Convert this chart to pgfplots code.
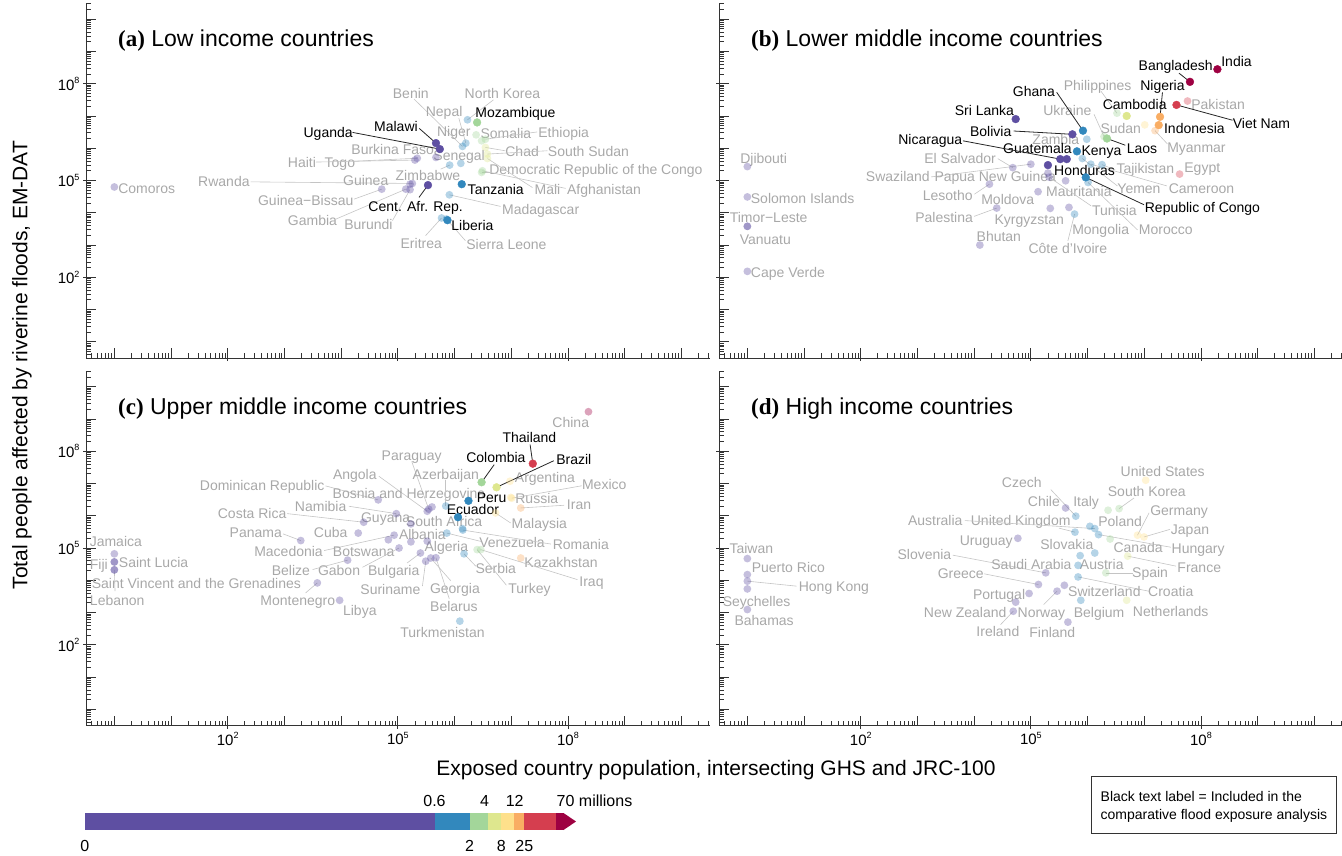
\documentclass[border=0pt]{standalone}
\usepackage{fontspec}
\setmainfont{Liberation Sans}
\newfontfamily\serifb{Liberation Serif}
\usepackage{pgfplots}
\pgfplotsset{compat=1.18}
\definecolor{col1}{HTML}{5E4FA2}
\definecolor{col2}{HTML}{3288BD}
\definecolor{col3}{HTML}{A3D69A}
\definecolor{col4}{HTML}{DEE78E}
\definecolor{col5}{HTML}{FEE08B}
\definecolor{col6}{HTML}{F9AD63}
\definecolor{col7}{HTML}{D53E4F}
\definecolor{col8}{HTML}{9E0142}
\definecolor{txg}{HTML}{A8A8A8}
\definecolor{txb}{HTML}{000000}
\definecolor{lng}{HTML}{C4C4C4}
\tikzset{ldg/.style={draw=lng, line width=0.6pt},
 ldb/.style={draw=black!85, line width=0.8pt},
 mkg/.style={fill opacity=0.36, draw opacity=0},
 mkb/.style={},
 lbl/.style={inner sep=0pt, font=\fontsize{14}{14}\selectfont, text height=10pt, text depth=0pt}}
\newcommand{\tlab}[1]{10\raisebox{0.45em}{\fontsize{9}{9}\selectfont #1}}
\newcommand{\ctyL}[9]{%
 \draw[ld#4] (axis cs:#2,#3) -- ++(#5pt,#6pt);
 \addplot[only marks, mark=*, mark size=3.9pt, mark options={draw=#1, fill=#1, mk#4}] coordinates {(#2,#3)};
 \node[lbl, text=tx#4] at ([shift={(#7pt,#8pt)}]axis cs:#2,#3) {#9};}
\newcommand{\ctyN}[7]{%
 \addplot[only marks, mark=*, mark size=3.9pt, mark options={draw=#1, fill=#1, mk#4}] coordinates {(#2,#3)};
 \node[lbl, text=tx#4] at ([shift={(#5pt,#6pt)}]axis cs:#2,#3) {#7};}
\begin{document}
\begin{tikzpicture}[x=1pt,y=1pt]
\useasboundingbox (0pt,0pt) rectangle (1342pt,-855pt);
% ---------------- (a)
\begin{axis}[at={(86pt,-3pt)}, anchor=north west,
 xmode=log, ymode=log, scale only axis, width=623.7pt, height=355pt,
 xmin=0.3162278, xmax=3.162278e10, ymin=0.3162278, ymax=3.162278e10,
 axis lines=left, axis line style={line width=0.9pt, black!80, -}, clip=false,
 xtick={1,10,100,1000,10000,100000,1000000,10000000,100000000,1000000000,10000000000},
 ytick={1,10,100,1000,10000,100000,1000000,10000000,100000000,1000000000,10000000000},
 minor xtick={0.4,0.5,0.6,0.7,0.8,0.9,2,3,4,5,6,7,8,9,20,30,40,50,60,70,80,90,200,300,400,500,600,700,800,900,2000,3000,4000,5000,6000,7000,8000,9000,20000,30000,40000,50000,60000,70000,80000,90000,200000,300000,400000,500000,600000,700000,800000,900000,2000000,3000000,4000000,5000000,6000000,7000000,8000000,9000000,20000000,30000000,40000000,50000000,60000000,70000000,80000000,90000000,200000000,300000000,400000000,500000000,600000000,700000000,800000000,900000000,2000000000,3000000000,4000000000,5000000000,6000000000,7000000000,8000000000,9000000000,20000000000,30000000000},
 minor ytick={0.4,0.5,0.6,0.7,0.8,0.9,2,3,4,5,6,7,8,9,20,30,40,50,60,70,80,90,200,300,400,500,600,700,800,900,2000,3000,4000,5000,6000,7000,8000,9000,20000,30000,40000,50000,60000,70000,80000,90000,200000,300000,400000,500000,600000,700000,800000,900000,2000000,3000000,4000000,5000000,6000000,7000000,8000000,9000000,20000000,30000000,40000000,50000000,60000000,70000000,80000000,90000000,200000000,300000000,400000000,500000000,600000000,700000000,800000000,900000000,2000000000,3000000000,4000000000,5000000000,6000000000,7000000000,8000000000,9000000000,20000000000,30000000000},
 xticklabels={}, yticklabels={},
 tick align=inside, major tick length=10pt, minor tick length=5pt,
 tick style={line width=0.8pt, black!80},
 extra x ticks={100,100000,100000000}, extra y ticks={100,100000,100000000},
 extra x tick style={tick align=outside, major tick length=3pt},
 extra y tick style={tick align=outside, major tick length=3pt},
 tick label style={font=\fontsize{15}{15}\selectfont},
 extra x tick labels={}, extra y tick labels={\tlab{2},\tlab{5},\tlab{8}}]
\ctyN{col1}{1}{6.3e4}{g}{32.4}{-1.3}{Comoros}
\ctyL{col1}{1.8e5}{8.1e4}{g}{-161.7}{1.6}{-188.4}{1.6}{Rwanda}
\ctyN{col1}{1.64e5}{7.7e4}{g}{-44.3}{3.3}{Guinea}
\ctyL{col1}{5.2e4}{5.4e4}{g}{-27.7}{-10}{-76}{-11.7}{Guinea−Bissau}
\ctyL{col1}{1.38e5}{5.4e4}{g}{-70}{-30}{-93.3}{-31}{Gambia}
\ctyL{col1}{1.64e5}{5.2e4}{g}{-17.6}{-31}{-41.6}{-35}{Burundi}
\ctyN{col1}{4.7e5}{5.2e5}{g}{-43.3}{7.6}{Burkina Faso}
\ctyL{col1}{2.2e5}{4.9e5}{g}{-63.4}{-3}{-77.4}{-4.3}{Togo}
\ctyL{col1}{2.0e5}{4.3e5}{g}{-99}{-2}{-113}{-2.3}{Haiti}
\ctyL{col2}{8.2e5}{3.0e5}{g}{-9}{-4}{-21.7}{-10.7}{Zimbabwe}
\ctyN{col2}{1.29e6}{3.4e5}{g}{-1.7}{8.3}{Senegal}
\ctyL{col2}{8.1e5}{3.6e4}{g}{51.3}{-11.6}{91.3}{-14.3}{Madagascar}
\ctyL{col2}{5.9e5}{6.9e3}{g}{-16}{-17.7}{-20.3}{-25.3}{Eritrea}
\ctyL{col2}{7.2e5}{6.4e3}{g}{19}{-21.7}{60}{-25.7}{Sierra Leone}
\ctyL{col2}{1.69e6}{7.6e6}{g}{26}{20}{35}{26.7}{North Korea}
\ctyL{col2}{1.38e6}{1.14e6}{g}{-48.4}{47.3}{-51.7}{53.3}{Benin}
\ctyL{col2}{1.58e6}{1.44e6}{g}{-7}{25}{-21.7}{31.3}{Nepal}
\ctyN{col3}{2.4e6}{2.6e6}{g}{-22.3}{3.4}{Niger}
\ctyN{col3}{3.0e6}{1.7e6}{g}{24.3}{7.7}{Somalia}
\ctyL{col3}{3.5e6}{1.9e6}{g}{51.7}{7.3}{78.3}{6.7}{Ethiopia}
\ctyL{col4}{3.5e6}{1.06e6}{g}{20}{-3.4}{36.7}{-4.4}{Chad}
\ctyL{col4}{3.8e6}{6.6e5}{g}{60}{3.3}{101}{2.7}{South Sudan}
\ctyL{col3}{3.0e6}{1.78e5}{g}{8.6}{0}{114.3}{2.6}{Democratic Republic of the Congo}
\ctyL{col4}{3.8e6}{4.8e5}{g}{45}{-29}{60}{-30.7}{Mali}
\ctyL{col3}{3.1e6}{2.0e5}{g}{83.3}{-17.6}{121.6}{-18.3}{Afghanistan}
\ctyL{col1}{3.4e5}{7.2e4}{b}{-9}{-12.3}{-12.3}{-21.7}{Cent. Afr. Rep.}
\ctyN{col2}{1.34e6}{7.7e4}{b}{34}{-5.7}{Tanzania}
\ctyN{col2}{7.5e5}{5.9e3}{b}{25}{-5.7}{Liberia}
\ctyL{col1}{4.7e5}{1.44e6}{b}{-16.7}{14.7}{-40}{16.7}{Malawi}
\ctyL{col1}{5.5e5}{9.4e5}{b}{-87.3}{16.7}{-111.7}{16.7}{Uganda}
\ctyN{col3}{2.5e6}{6.3e6}{b}{38.3}{10}{Mozambique}
\end{axis}
% ---------------- (b)
\begin{axis}[at={(719pt,-3pt)}, anchor=north west,
 xmode=log, ymode=log, scale only axis, width=623.7pt, height=355pt,
 xmin=0.3162278, xmax=3.162278e10, ymin=0.3162278, ymax=3.162278e10,
 axis lines=left, axis line style={line width=0.9pt, black!80, -}, clip=false,
 xtick={1,10,100,1000,10000,100000,1000000,10000000,100000000,1000000000,10000000000},
 ytick={1,10,100,1000,10000,100000,1000000,10000000,100000000,1000000000,10000000000},
 minor xtick={0.4,0.5,0.6,0.7,0.8,0.9,2,3,4,5,6,7,8,9,20,30,40,50,60,70,80,90,200,300,400,500,600,700,800,900,2000,3000,4000,5000,6000,7000,8000,9000,20000,30000,40000,50000,60000,70000,80000,90000,200000,300000,400000,500000,600000,700000,800000,900000,2000000,3000000,4000000,5000000,6000000,7000000,8000000,9000000,20000000,30000000,40000000,50000000,60000000,70000000,80000000,90000000,200000000,300000000,400000000,500000000,600000000,700000000,800000000,900000000,2000000000,3000000000,4000000000,5000000000,6000000000,7000000000,8000000000,9000000000,20000000000,30000000000},
 minor ytick={0.4,0.5,0.6,0.7,0.8,0.9,2,3,4,5,6,7,8,9,20,30,40,50,60,70,80,90,200,300,400,500,600,700,800,900,2000,3000,4000,5000,6000,7000,8000,9000,20000,30000,40000,50000,60000,70000,80000,90000,200000,300000,400000,500000,600000,700000,800000,900000,2000000,3000000,4000000,5000000,6000000,7000000,8000000,9000000,20000000,30000000,40000000,50000000,60000000,70000000,80000000,90000000,200000000,300000000,400000000,500000000,600000000,700000000,800000000,900000000,2000000000,3000000000,4000000000,5000000000,6000000000,7000000000,8000000000,9000000000,20000000000,30000000000},
 xticklabels={}, yticklabels={},
 tick align=inside, major tick length=10pt, minor tick length=5pt,
 tick style={line width=0.8pt, black!80},
 extra x ticks={100,100000,100000000}, extra y ticks={100,100000,100000000},
 extra x tick style={tick align=outside, major tick length=3pt},
 extra y tick style={tick align=outside, major tick length=3pt},
 tick label style={font=\fontsize{15}{15}\selectfont},
 extra x tick labels={}, extra y tick labels={}]
\ctyN{col1}{1}{2.7e5}{g}{16.3}{8}{Djibouti}
\ctyN{col1}{1}{3.1e4}{g}{55.3}{-1.6}{Solomon Islands}
\ctyN{col1}{1}{3.8e3}{g}{21.3}{8.6}{Timor−Leste}
\ctyN{col1}{1}{3.8e3}{g}{18}{-12.7}{Vanuatu}
\ctyN{col1}{1}{153}{g}{40.6}{-1}{Cape Verde}
\ctyL{col1}{4.8e4}{2.5e5}{g}{-15}{9}{-52.7}{9.3}{El Salvador}
\ctyL{col1}{1.0e5}{3.2e5}{g}{-99.7}{-12.7}{-133}{-12.7}{Swaziland}
\ctyN{col1}{2.0e5}{1.7e5}{g}{-52.7}{-3.7}{Papua New Guinea}
\ctyL{col1}{1.86e4}{7.7e4}{g}{-15}{-10}{-41.7}{-11.7}{Lesotho}
\ctyN{col1}{1.34e5}{4.5e4}{g}{-30.3}{-7.8}{Moldova}
\ctyL{col1}{2.5e4}{1.4e4}{g}{-22.6}{-8.3}{-52.6}{-9.3}{Palestina}
\ctyN{col1}{2.2e5}{1.37e4}{g}{-21}{-10.7}{Kyrgyzstan}
\ctyN{col1}{1.26e4}{1.0e3}{g}{19}{8.4}{Bhutan}
\ctyL{col3}{3.3e6}{1.22e7}{g}{-16}{22}{-19.3}{28}{Philippines}
\ctyN{col7}{5.8e7}{2.9e7}{g}{30.6}{-3.3}{Pakistan}
\ctyN{col5}{1.02e7}{5.3e6}{g}{-24}{-3.6}{Sudan}
\ctyL{col6}{1.55e7}{3.5e6}{g}{12.4}{-13.3}{41.4}{-16.6}{Myanmar}
\ctyL{col3}{1.95e6}{2.3e6}{g}{-10}{22.3}{-36.6}{25.6}{Ukraine}
\ctyN{col2}{9.7e5}{1.9e6}{g}{-31}{-0.7}{Zambia}
\ctyL{col2}{1.8e6}{3.1e5}{g}{13.3}{-5.3}{43.3}{-4.3}{Tajikistan}
\ctyN{col7}{4.2e7}{1.58e5}{g}{22.7}{6.7}{Egypt}
\ctyL{col2}{1.14e6}{3.2e5}{g}{76}{-21.7}{110.7}{-24}{Cameroon}
\ctyL{col2}{8.1e5}{4.8e5}{g}{35}{-27.4}{56.6}{-30}{Yemen}
\ctyN{col1}{4.1e5}{9.8e4}{g}{13.3}{-11}{Mauritania}
\ctyL{col1}{2.1e5}{1.27e5}{g}{42}{-28.7}{65.3}{-33}{Tunisia}
\ctyL{col2}{1.02e6}{8.7e4}{g}{49.4}{-47.4}{77.7}{-47.4}{Morocco}
\ctyN{col1}{4.7e5}{1.47e4}{g}{31.7}{-21.7}{Mongolia}
\ctyL{col2}{5.9e5}{9.1e3}{g}{-6.7}{-26.7}{-6.7}{-34.3}{Côte d'Ivoire}
\ctyN{col8}{1.95e8}{2.8e8}{b}{19.1}{7.7}{India}
\ctyL{col8}{6.4e7}{1.14e8}{b}{-11}{8.7}{-14.3}{16}{Bangladesh}
\ctyL{col6}{1.9e7}{9.4e6}{b}{2.4}{24.4}{2.4}{31}{Nigeria}
\ctyN{col6}{1.8e7}{5.2e6}{b}{35.7}{-3.3}{Indonesia}
\ctyN{col4}{4.9e6}{1.0e7}{b}{8}{11}{Cambodia}
\ctyL{col7}{3.7e7}{2.2e7}{b}{56}{-15.3}{85}{-18.3}{Viet Nam}
\ctyL{col3}{2.2e6}{2.0e6}{b}{18.3}{-6.7}{35}{-9.7}{Laos}
\ctyL{col2}{8.3e5}{3.5e6}{b}{-26.3}{38.4}{-49}{39}{Ghana}
\ctyL{col1}{5.4e5}{2.7e6}{b}{-58.7}{3.3}{-81.7}{3.3}{Bolivia}
\ctyN{col2}{6.5e5}{8.0e5}{b}{24.5}{1.3}{Kenya}
\ctyN{col1}{4.3e5}{4.6e5}{b}{-29.3}{10.7}{Guatemala}
\ctyL{col1}{3.3e5}{4.6e5}{b}{-97.3}{18.3}{-130}{20}{Nicaragua}
\ctyN{col1}{2.0e5}{3.0e5}{b}{36.6}{-5}{Honduras}
\ctyL{col2}{9.3e5}{1.25e5}{b}{58.3}{-27.4}{116.7}{-30}{Republic of Congo}
\ctyN{col1}{5.4e4}{8.0e6}{b}{-31.3}{8.3}{Sri Lanka}
\end{axis}
% ---------------- (c)
\begin{axis}[at={(86pt,-370.5pt)}, anchor=north west,
 xmode=log, ymode=log, scale only axis, width=623.7pt, height=355pt,
 xmin=0.3162278, xmax=3.162278e10, ymin=0.3162278, ymax=3.162278e10,
 axis lines=left, axis line style={line width=0.9pt, black!80, -}, clip=false,
 xtick={1,10,100,1000,10000,100000,1000000,10000000,100000000,1000000000,10000000000},
 ytick={1,10,100,1000,10000,100000,1000000,10000000,100000000,1000000000,10000000000},
 minor xtick={0.4,0.5,0.6,0.7,0.8,0.9,2,3,4,5,6,7,8,9,20,30,40,50,60,70,80,90,200,300,400,500,600,700,800,900,2000,3000,4000,5000,6000,7000,8000,9000,20000,30000,40000,50000,60000,70000,80000,90000,200000,300000,400000,500000,600000,700000,800000,900000,2000000,3000000,4000000,5000000,6000000,7000000,8000000,9000000,20000000,30000000,40000000,50000000,60000000,70000000,80000000,90000000,200000000,300000000,400000000,500000000,600000000,700000000,800000000,900000000,2000000000,3000000000,4000000000,5000000000,6000000000,7000000000,8000000000,9000000000,20000000000,30000000000},
 minor ytick={0.4,0.5,0.6,0.7,0.8,0.9,2,3,4,5,6,7,8,9,20,30,40,50,60,70,80,90,200,300,400,500,600,700,800,900,2000,3000,4000,5000,6000,7000,8000,9000,20000,30000,40000,50000,60000,70000,80000,90000,200000,300000,400000,500000,600000,700000,800000,900000,2000000,3000000,4000000,5000000,6000000,7000000,8000000,9000000,20000000,30000000,40000000,50000000,60000000,70000000,80000000,90000000,200000000,300000000,400000000,500000000,600000000,700000000,800000000,900000000,2000000000,3000000000,4000000000,5000000000,6000000000,7000000000,8000000000,9000000000,20000000000,30000000000},
 xticklabels={}, yticklabels={},
 tick align=inside, major tick length=10pt, minor tick length=5pt,
 tick style={line width=0.8pt, black!80},
 extra x ticks={100,100000,100000000}, extra y ticks={100,100000,100000000},
 extra x tick style={tick align=outside, major tick length=3pt},
 extra y tick style={tick align=outside, major tick length=3pt},
 tick label style={font=\fontsize{15}{15}\selectfont},
 extra x tick labels={\tlab{2},\tlab{5},\tlab{8}}, extra y tick labels={\tlab{2},\tlab{5},\tlab{8}}]
\ctyN{col1}{1}{6.6e4}{g}{1.5}{12.7}{Jamaica}
\ctyN{col1}{1}{3.7e4}{g}{-15.5}{-2.7}{Fiji}
\ctyN{col1}{1}{3.7e4}{g}{39.2}{-1}{Saint Lucia}
\ctyN{col1}{1}{2.1e4}{g}{82}{-14}{Saint Vincent and the Grenadines}
\ctyL{col1}{1}{2.1e4}{g}{0.7}{-21.3}{2.9}{-30.7}{Lebanon}
\ctyL{col1}{1.94e3}{1.7e5}{g}{-17.7}{6.7}{-45}{8.4}{Panama}
\ctyL{col1}{2.5e4}{6.3e5}{g}{-76.6}{8.6}{-111.6}{8.6}{Costa Rica}
\ctyN{col1}{2.0e4}{2.9e5}{g}{-27.5}{1}{Cuba}
\ctyL{col1}{4.5e4}{3.1e6}{g}{-52.7}{14}{-116}{14}{Dominican Republic}
\ctyL{col1}{3.3e5}{1.38e6}{g}{-48.4}{35}{-72.4}{36.6}{Angola}
\ctyL{col1}{3.5e5}{1.6e6}{g}{-17}{47.7}{-17}{53.7}{Paraguay}
\ctyN{col1}{4.0e5}{1.87e6}{g}{-23}{13}{Bosnia and Herzegovina}
\ctyL{col1}{9.4e4}{1.16e6}{g}{-47.4}{7.4}{-75.7}{7.4}{Namibia}
\ctyN{col1}{1.7e5}{5.6e5}{g}{-25.3}{6}{Guyana}
\ctyN{col2}{1.38e6}{4.0e5}{g}{-18.4}{6.7}{South Africa}
\ctyL{col1}{8.6e4}{2.5e5}{g}{-70}{-15.4}{-105.6}{-16}{Macedonia}
\ctyN{col1}{6.8e4}{1.8e5}{g}{34}{5.7}{Albania}
\ctyN{col1}{1.7e5}{1.55e5}{g}{-47.2}{-9.3}{Botswana}
\ctyL{col1}{1.05e5}{1.0e5}{g}{-36.6}{-19.3}{-60}{-22.7}{Gabon}
\ctyL{col1}{1.3e4}{4.2e4}{g}{-35}{-9.4}{-56.7}{-10.4}{Belize}
\ctyL{col1}{2.5e5}{7.0e4}{g}{-13.3}{-10}{-26.7}{-17.7}{Bulgaria}
\ctyL{col1}{3.1e5}{3.9e4}{g}{-3.3}{-25}{-35.3}{-28.4}{Suriname}
\ctyL{col1}{3.8e5}{4.9e4}{g}{20}{-22.7}{24.2}{-30.7}{Georgia}
\ctyL{col1}{4.7e5}{5.0e4}{g}{13.3}{-41}{18}{-48.6}{Belarus}
\ctyN{col1}{3.3e5}{1.63e5}{g}{19.1}{-5}{Algeria}
\ctyN{col1}{9.4e3}{2.4e3}{g}{20.2}{-10.6}{Libya}
\ctyL{col1}{3.8e3}{8.3e3}{g}{-11.7}{-10}{-19.5}{-17.7}{Montenegro}
\ctyN{col2}{1.24e6}{542}{g}{-17.3}{-11}{Turkmenistan}
\ctyN{col8}{2.3e8}{1.67e9}{g}{-17.7}{-10.6}{China}
\ctyN{col5}{9.5e6}{1.17e7}{g}{34.9}{3.3}{Argentina}
\ctyL{col5}{1.02e7}{3.5e6}{g}{70}{12.4}{92.5}{13.4}{Mexico}
\ctyN{col5}{9.8e6}{3.7e6}{g}{26}{-0.7}{Russia}
\ctyL{col5}{5.3e6}{1.22e6}{g}{15}{-10}{43.7}{-11}{Malaysia}
\ctyL{col6}{1.47e7}{1.74e6}{g}{43.3}{2.7}{58.3}{3.3}{Iran}
\ctyL{col2}{7.0e5}{2.0e6}{g}{0}{25.6}{0}{31.6}{Azerbaijan}
\ctyL{col2}{7.3e5}{2.9e5}{g}{34}{-8.3}{65.2}{-9.3}{Venezuela}
\ctyL{col2}{1.4e6}{3.6e5}{g}{88}{-14}{118}{-14}{Romania}
\ctyL{col2}{1.47e6}{6.6e4}{g}{11.7}{-12.3}{31.7}{-15}{Serbia}
\ctyL{col3}{2.5e6}{8.9e4}{g}{29.3}{-35.6}{52.3}{-39}{Turkey}
\ctyN{col6}{1.47e7}{4.9e4}{g}{40.3}{-4.3}{Kazakhstan}
\ctyL{col3}{2.9e6}{8.9e4}{g}{96.7}{-30}{110.7}{-31.6}{Iraq}
\ctyL{col7}{2.4e7}{4.1e7}{b}{-2.7}{19}{-3.4}{25.7}{Thailand}
\ctyL{col3}{3.0e6}{1.09e7}{b}{12.6}{17.6}{14.3}{25}{Colombia}
\ctyL{col4}{5.5e6}{7.6e6}{b}{57.3}{26.6}{77.3}{27.6}{Brazil}
\ctyN{col2}{1.76e6}{2.9e6}{b}{23.1}{3.4}{Peru}
\ctyN{col2}{1.15e6}{9.0e5}{b}{14.9}{7.6}{Ecuador}
\end{axis}
% ---------------- (d)
\begin{axis}[at={(719pt,-370.5pt)}, anchor=north west,
 xmode=log, ymode=log, scale only axis, width=623.7pt, height=355pt,
 xmin=0.3162278, xmax=3.162278e10, ymin=0.3162278, ymax=3.162278e10,
 axis lines=left, axis line style={line width=0.9pt, black!80, -}, clip=false,
 xtick={1,10,100,1000,10000,100000,1000000,10000000,100000000,1000000000,10000000000},
 ytick={1,10,100,1000,10000,100000,1000000,10000000,100000000,1000000000,10000000000},
 minor xtick={0.4,0.5,0.6,0.7,0.8,0.9,2,3,4,5,6,7,8,9,20,30,40,50,60,70,80,90,200,300,400,500,600,700,800,900,2000,3000,4000,5000,6000,7000,8000,9000,20000,30000,40000,50000,60000,70000,80000,90000,200000,300000,400000,500000,600000,700000,800000,900000,2000000,3000000,4000000,5000000,6000000,7000000,8000000,9000000,20000000,30000000,40000000,50000000,60000000,70000000,80000000,90000000,200000000,300000000,400000000,500000000,600000000,700000000,800000000,900000000,2000000000,3000000000,4000000000,5000000000,6000000000,7000000000,8000000000,9000000000,20000000000,30000000000},
 minor ytick={0.4,0.5,0.6,0.7,0.8,0.9,2,3,4,5,6,7,8,9,20,30,40,50,60,70,80,90,200,300,400,500,600,700,800,900,2000,3000,4000,5000,6000,7000,8000,9000,20000,30000,40000,50000,60000,70000,80000,90000,200000,300000,400000,500000,600000,700000,800000,900000,2000000,3000000,4000000,5000000,6000000,7000000,8000000,9000000,20000000,30000000,40000000,50000000,60000000,70000000,80000000,90000000,200000000,300000000,400000000,500000000,600000000,700000000,800000000,900000000,2000000000,3000000000,4000000000,5000000000,6000000000,7000000000,8000000000,9000000000,20000000000,30000000000},
 xticklabels={}, yticklabels={},
 tick align=inside, major tick length=10pt, minor tick length=5pt,
 tick style={line width=0.8pt, black!80},
 extra x ticks={100,100000,100000000}, extra y ticks={100,100000,100000000},
 extra x tick style={tick align=outside, major tick length=3pt},
 extra y tick style={tick align=outside, major tick length=3pt},
 tick label style={font=\fontsize{15}{15}\selectfont},
 extra x tick labels={\tlab{2},\tlab{5},\tlab{8}}, extra y tick labels={}]
\ctyN{col1}{1}{4.7e4}{g}{4}{10}{Taiwan}
\ctyN{col1}{1}{1.5e4}{g}{41}{7.4}{Puerto Rico}
\ctyL{col1}{1}{9.4e3}{g}{49.3}{-5}{86.5}{-5.7}{Hong Kong}
\ctyN{col1}{1}{5.4e3}{g}{9.3}{-12.3}{Seychelles}
\ctyN{col1}{1}{1.24e3}{g}{16.8}{-11}{Bahamas}
\ctyN{col5}{1.06e7}{1.26e7}{g}{17}{8.3}{United States}
\ctyL{col3}{3.6e6}{1.66e6}{g}{15}{10.7}{27.7}{17.4}{South Korea}
\ctyN{col3}{2.3e6}{1.48e6}{g}{12}{-11}{Poland}
\ctyL{col5}{7.6e6}{2.5e5}{g}{11.6}{22.3}{41.6}{25}{Germany}
\ctyL{col5}{9.9e6}{2.2e5}{g}{26}{7.6}{46}{7.6}{Japan}
\ctyL{col2}{6.2e5}{9.7e5}{g}{-25}{26.6}{-54}{34}{Czech}
\ctyN{col1}{4.1e5}{1.74e6}{g}{-21.7}{6.7}{Chile}
\ctyN{col2}{1.1e6}{4.7e5}{g}{-3.8}{25}{Italy}
\ctyL{col2}{6.0e5}{3.1e5}{g}{-16}{4}{-54.3}{11.3}{United Kingdom}
\ctyL{col2}{1.34e6}{4.0e5}{g}{-130}{8}{-159.5}{8}{Australia}
\ctyL{col2}{1.56e6}{2.6e5}{g}{72.3}{-12.6}{99.6}{-14.3}{Hungary}
\ctyN{col3}{2.5e6}{1.9e5}{g}{28}{-8.3}{Canada}
\ctyN{col2}{7.4e5}{5.8e4}{g}{-13.3}{11}{Slovakia}
\ctyN{col1}{5.9e4}{2.0e5}{g}{-31.6}{-2}{Uruguay}
\ctyL{col4}{5.1e6}{5.6e4}{g}{48.3}{-10}{71.6}{-11.7}{France}
\ctyL{col1}{1.83e5}{1.7e4}{g}{-93}{17.7}{-121.3}{18.3}{Slovenia}
\ctyN{col2}{1.34e6}{7.0e4}{g}{-63.3}{-11}{Saudi Arabia}
\ctyN{col2}{6.8e5}{2.9e4}{g}{23.7}{0.6}{Austria}
\ctyL{col3}{2.1e6}{1.7e4}{g}{26.7}{0}{44.3}{0.7}{Spain}
\ctyL{col1}{1.36e5}{7.4e3}{g}{-54.4}{10.7}{-77.7}{10.7}{Greece}
\ctyL{col2}{6.8e5}{1.27e4}{g}{71}{-14.3}{92.7}{-14.3}{Croatia}
\ctyN{col1}{3.9e5}{7.0e3}{g}{40}{-6.7}{Switzerland}
\ctyN{col1}{9.3e4}{3.9e3}{g}{-30}{-0.7}{Portugal}
\ctyL{col1}{2.9e5}{4.6e3}{g}{-13.4}{-13.4}{-15.7}{-21}{Norway}
\ctyN{col1}{5.4e4}{2.1e3}{g}{-50.5}{-10}{New Zealand}
\ctyL{col1}{4.9e4}{1.1e3}{g}{-12.7}{-13.4}{-15.4}{-20.7}{Ireland}
\ctyN{col2}{7.6e5}{2.4e3}{g}{18.3}{-12.7}{Belgium}
\ctyN{col1}{4.5e5}{505}{g}{-15.6}{-10.7}{Finland}
\ctyN{col4}{4.9e6}{2.4e3}{g}{44}{-11}{Netherlands}
\end{axis}
% ---------------- colour bar
\begin{axis}[at={(85pt,-830pt)}, anchor=south west, scale only axis, width=491pt, height=17pt,
 xmin=85, xmax=576, ymin=0, ymax=1, hide axis, clip=false]
\addplot[fill=col1, draw=none] coordinates {(85,1) (435.2,1)} \closedcycle;
\addplot[fill=col2, draw=none] coordinates {(435.2,1) (469.6,1)} \closedcycle;
\addplot[fill=col3, draw=none] coordinates {(469.6,1) (488,1)} \closedcycle;
\addplot[fill=col4, draw=none] coordinates {(488,1) (500.6,1)} \closedcycle;
\addplot[fill=col5, draw=none] coordinates {(500.6,1) (514,1)} \closedcycle;
\addplot[fill=col6, draw=none] coordinates {(514,1) (524.3,1)} \closedcycle;
\addplot[fill=col7, draw=none] coordinates {(524.3,1) (556,1)} \closedcycle;
\addplot[fill=col8, draw=none] coordinates {(556,1) (563.5,1)} \closedcycle;
\fill[col8] (axis cs:563.5,0) -- (axis cs:576,0.5) -- (axis cs:563.5,1) -- cycle;
\end{axis}
\begin{scope}[every node/.style={font=\fontsize{16}{16}\selectfont, inner sep=0pt}]
\node[anchor=base] at (434.5pt,-806pt) {0.6};
\node[anchor=base] at (484.5pt,-806pt) {4};
\node[anchor=base] at (514.7pt,-806pt) {12};
\node[anchor=base west] at (556.5pt,-806pt) {70 millions};
\node[anchor=base] at (84.8pt,-851pt) {0};
\node[anchor=base] at (469.6pt,-851pt) {2};
\node[anchor=base] at (501.4pt,-851pt) {8};
\node[anchor=base] at (524.3pt,-851pt) {25};
\end{scope}
% ---------------- titles and labels
\begin{scope}[every node/.style={font=\fontsize{23}{23}\selectfont, inner sep=0pt, anchor=base west}]
\node at (118pt,-46pt) {{\serifb\bfseries (a)} Low income countries};
\node at (751pt,-46pt) {{\serifb\bfseries (b)} Lower middle income countries};
\node at (118pt,-414pt) {{\serifb\bfseries (c)} Upper middle income countries};
\node at (751pt,-414pt) {{\serifb\bfseries (d)} High income countries};
\end{scope}
\node[font=\fontsize{21}{21}\selectfont, inner sep=0pt] at (716pt,-770pt) {Exposed country population, intersecting GHS and JRC-100};
\node[font=\fontsize{21}{21}\selectfont, inner sep=0pt, rotate=90] at (22pt,-365pt) {Total people affected by riverine floods, EM-DAT};
\draw[black!80, line width=1pt] (1091.5pt,-776.5pt) rectangle (1336.5pt,-833pt);
\node[font=\fontsize{14}{14}\selectfont, inner sep=0pt, anchor=base west] at (1100.5pt,-801pt) {Black text label = Included in the};
\node[font=\fontsize{14}{14}\selectfont, inner sep=0pt, anchor=base west] at (1100.5pt,-819.5pt) {comparative flood exposure analysis};
\end{tikzpicture}
\end{document}
